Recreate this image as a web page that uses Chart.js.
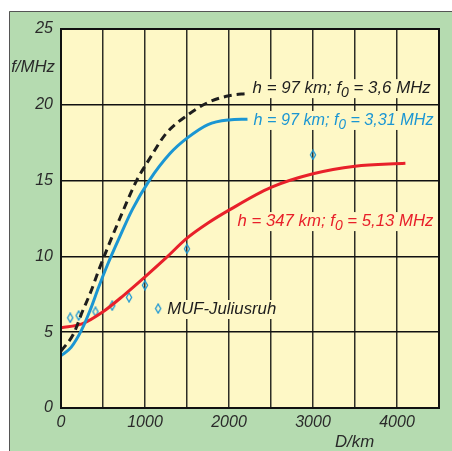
<!DOCTYPE html>
<html>
<head>
<meta charset="utf-8">
<script src="https://cdn.jsdelivr.net/npm/chart.js@4/dist/chart.umd.min.js"></script>
<style>
  html, body { margin: 0; padding: 0; background: #fff; }
  #wrap { width: 452px; height: 451px; }
</style>
</head>
<body>
<div id="wrap"><canvas id="muf" width="452" height="451"></canvas></div>
<script>
// curves: D in km, f in MHz
const dBlack = [0, 150, 250, 350, 450, 550, 700, 900, 1050, 1250, 1500, 1750, 2000, 2220];
const fBlack = [3.75, 4.9, 6.3, 7.6, 9.1, 10.5, 12.5, 15.0, 16.4, 18.1, 19.3, 20.15, 20.6, 20.75];
const dBlue = [0, 120, 250, 350, 450, 550, 700, 850, 1050, 1300, 1500, 1750, 2000, 2220];
const fBlue = [3.45, 4.0, 5.2, 6.5, 8.0, 9.4, 11.3, 13.1, 15.0, 16.8, 17.8, 18.7, 19.0, 19.05];
const dRed = [0, 250, 500, 750, 1000, 1250, 1500, 1750, 2000, 2500, 3000, 3500, 4100];
const fRed = [5.3, 5.55, 6.35, 7.45, 8.65, 9.9, 11.2, 12.2, 13.05, 14.55, 15.45, 15.95, 16.15];
// measured MUF at Juliusruh
const dMuf = [110, 210, 410, 610, 810, 1000, 1500, 3000];
const fMuf = [5.95, 6.1, 6.35, 6.75, 7.3, 8.1, 10.5, 16.7];

const xTicks = [0, 1000, 2000, 3000, 4000];
const yTicks = [0, 5, 10, 15, 20, 25];

const labelBlack = ['h = 97 km; f', '0', ' = 3,6 MHz'];
const labelBlue = ['h = 97 km; f', '0', ' = 3,31 MHz'];
const labelRed = ['h = 347 km; f', '0', ' = 5,13 MHz'];
const labelMuf = 'MUF-Juliusruh';

const BLACK = '#1e1e1e';
const BLUE = '#1b96d3';
const RED = '#e8202a';
const GREEN = '#b5dbb0';
const YELLOW = '#fef8c6';
const FONT = 'italic 16.8px "Liberation Sans", Arial, sans-serif';
const SUBFONT = 'italic 14px "Liberation Sans", Arial, sans-serif';

function pts(xs, ys) {
  return xs.map((x, i) => ({ x: x, y: ys[i] }));
}

// tall hollow diamond marker
const diamond = document.createElement('canvas');
diamond.width = 8;
diamond.height = 11;
(function () {
  const c = diamond.getContext('2d');
  c.strokeStyle = BLUE;
  c.lineWidth = 1.3;
  c.beginPath();
  c.moveTo(4, 1);
  c.lineTo(6.6, 5.5);
  c.lineTo(4, 10);
  c.lineTo(1.4, 5.5);
  c.closePath();
  c.stroke();
})();

const panel = {
  id: 'panel',
  beforeDraw(chart) {
    const ctx = chart.ctx;
    const a = chart.chartArea;
    ctx.save();
    ctx.fillStyle = '#fff';
    ctx.fillRect(0, 0, chart.width, chart.height);
    ctx.fillStyle = GREEN;
    ctx.fillRect(9, 11, chart.width - 9, chart.height - 11);
    ctx.strokeStyle = '#555';
    ctx.lineWidth = 1;
    ctx.beginPath();
    ctx.moveTo(9.5, chart.height);
    ctx.lineTo(9.5, 11.5);
    ctx.lineTo(chart.width, 11.5);
    ctx.stroke();
    ctx.fillStyle = YELLOW;
    ctx.fillRect(a.left, a.top, a.right - a.left, a.bottom - a.top);
    ctx.restore();
  },
  afterDatasetsDraw(chart) {
    const ctx = chart.ctx;
    const xs = chart.scales.x, ys = chart.scales.y;
    ctx.save();
    // curve label, squeezed to the width it has in the original
    function tag(parts, d, dEnd, f, color) {
      const x = xs.getPixelForValue(d);
      const y = ys.getPixelForValue(f);
      const target = xs.getPixelForValue(dEnd) - x;
      ctx.font = FONT;
      const w1 = ctx.measureText(parts[0]).width;
      const w3 = ctx.measureText(parts[2]).width;
      ctx.font = SUBFONT;
      const w2 = ctx.measureText(parts[1]).width;
      const sx = target / (w1 + w2 + w3);
      ctx.fillStyle = YELLOW;
      ctx.fillRect(x - 3, y - 9, target + 6, 19);
      ctx.save();
      ctx.translate(x, y);
      ctx.scale(sx, 1);
      ctx.fillStyle = color;
      ctx.textBaseline = 'middle';
      ctx.textAlign = 'left';
      ctx.font = FONT;
      ctx.fillText(parts[0], 0, 0);
      ctx.font = SUBFONT;
      ctx.fillText(parts[1], w1, 5);
      ctx.font = FONT;
      ctx.fillText(parts[2], w1 + w2, 0);
      ctx.restore();
    }
    tag(labelBlack, 2281, 4402, 21.1, BLACK);
    tag(labelBlue, 2293, 4434, 19.0, BLUE);
    tag(labelRed, 2102, 4434, 12.33, RED);

    // legend for the measured points
    const lx = xs.getPixelForValue(1264);
    const ly = ys.getPixelForValue(6.53);
    ctx.font = FONT;
    const lw = ctx.measureText(labelMuf).width;
    ctx.fillStyle = YELLOW;
    ctx.fillRect(lx - 16, ly - 9, lw + 19, 19);
    ctx.drawImage(diamond, lx - 13, ly - 6);
    ctx.fillStyle = BLACK;
    ctx.textBaseline = 'middle';
    ctx.fillText(labelMuf, lx, ly);
    ctx.restore();
  },
  afterDraw(chart) {
    const ctx = chart.ctx;
    const a = chart.chartArea;
    ctx.save();
    ctx.strokeStyle = '#111';
    ctx.lineWidth = 2;
    ctx.strokeRect(a.left, a.top, a.right - a.left, a.bottom - a.top);
    ctx.font = FONT;
    ctx.fillStyle = '#2a2a2a';
    ctx.textBaseline = 'middle';
    ctx.textAlign = 'right';
    ctx.fillText('f/MHz', 55, 67);
    ctx.textAlign = 'left';
    ctx.fillText('D/km', 335, 442);
    ctx.restore();
  }
};

new Chart(document.getElementById('muf'), {
  type: 'line',
  data: {
    datasets: [{
      label: 'h = 97 km; f0 = 3,6 MHz',
      data: pts(dBlack, fBlack),
      borderColor: BLACK,
      borderWidth: 3,
      borderDash: [8, 5],
      pointRadius: 0,
      cubicInterpolationMode: 'monotone'
    }, {
      label: 'h = 97 km; f0 = 3,31 MHz',
      data: pts(dBlue, fBlue),
      borderColor: BLUE,
      borderWidth: 3,
      pointRadius: 0,
      cubicInterpolationMode: 'monotone'
    }, {
      label: 'h = 347 km; f0 = 5,13 MHz',
      data: pts(dRed, fRed),
      borderColor: RED,
      borderWidth: 3,
      pointRadius: 0,
      cubicInterpolationMode: 'monotone'
    }, {
      label: labelMuf,
      data: pts(dMuf, fMuf),
      showLine: false,
      pointStyle: diamond,
      pointRadius: 5
    }]
  },
  options: {
    responsive: false,
    animation: false,
    devicePixelRatio: 1,
    layout: { padding: { left: 9, top: 29, right: 13, bottom: 0 } },
    plugins: { legend: { display: false }, tooltip: { enabled: false } },
    scales: {
      x: {
        type: 'linear',
        min: 0,
        max: 4500,
        afterFit: s => { s.height = 43; },
        afterBuildTicks: s => { s.ticks = []; for (let v = 0; v <= 4500; v += 500) s.ticks.push({ value: v }); },
        ticks: {
          autoSkip: false,
          maxRotation: 0,
          padding: 5,
          color: '#2a2a2a',
          font: { family: '"Liberation Sans", Arial, sans-serif', size: 16, style: 'italic' },
          callback: v => xTicks.includes(v) ? String(v) : ''
        },
        grid: { color: '#2e2e26', lineWidth: 1.5, drawTicks: false },
        border: { display: false }
      },
      y: {
        min: 0,
        max: 25,
        afterFit: s => { s.width = 52; },
        afterBuildTicks: s => { s.ticks = yTicks.map(v => ({ value: v })); },
        ticks: {
          padding: 8,
          color: '#2a2a2a',
          font: { family: '"Liberation Sans", Arial, sans-serif', size: 16, style: 'italic' }
        },
        grid: { color: '#111', lineWidth: 1.5, drawTicks: false },
        border: { display: false }
      }
    }
  },
  plugins: [panel]
});
</script>
</body>
</html>
